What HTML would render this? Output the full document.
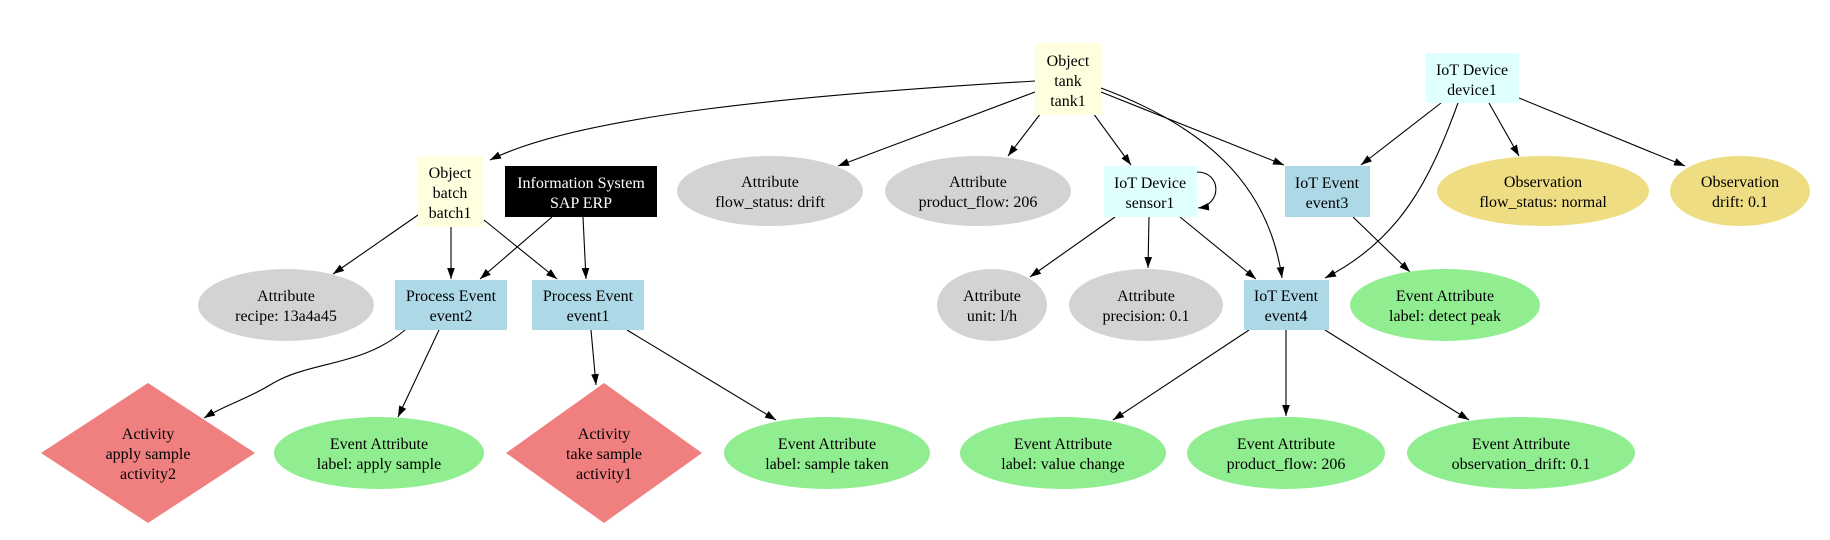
<!DOCTYPE html>
<html><head><meta charset="utf-8"><style>html,body{margin:0;padding:0;background:#fff}svg{display:block}text{font-family:"Liberation Serif",serif;font-size:16px;text-anchor:middle}</style></head><body>
<svg width="1830" height="540" viewBox="0 0 1830 540" xmlns="http://www.w3.org/2000/svg">
<defs><marker id="a" viewBox="0 0 10 10" refX="10" refY="5" markerWidth="11" markerHeight="11" markerUnits="userSpaceOnUse" orient="auto"><path d="M0,1.5 L10,5 L0,8.5 z" fill="#000"/></marker></defs>
<g fill="none" stroke="#000" stroke-width="1.1" marker-end="url(#a)">
<path d="M1035,81 C800,95 580,115 490,160"/>
<path d="M1035,92 L838,166"/>
<path d="M1041,113 L1008,156"/>
<path d="M1093,113 L1131,165"/>
<path d="M1101,88 C1200,125 1268,180 1282,278"/>
<path d="M1101,92 L1284,165"/>
<path d="M1441,103 L1361,165"/>
<path d="M1458,103 C1430,180 1400,240 1325,278"/>
<path d="M1489,103 L1519,156"/>
<path d="M1519,98 L1685,166"/>
<path d="M1197,172 C1222,172 1222,205 1198,208"/>
<path d="M1115,217 L1030,277"/>
<path d="M1149,217 L1148,268"/>
<path d="M1180,217 L1256,279"/>
<path d="M1353,217 L1410,272"/>
<path d="M1249,330 L1113,420"/>
<path d="M1286,330 L1286,416"/>
<path d="M1325,330 L1469,420"/>
<path d="M418,215 L333,274"/>
<path d="M451,227 L451,279"/>
<path d="M484,220 L557,279"/>
<path d="M552,217 L480,279"/>
<path d="M583,217 L586,279"/>
<path d="M405,330 C360,368 310,360 270,385 C245,400 225,405 204,418"/>
<path d="M439,330 L398,417"/>
<path d="M591,330 L596,385"/>
<path d="M627,330 L776,420"/>
</g>
<rect x="1035" y="43" width="66" height="72" fill="#ffffe0"/>
<text x="1068" y="66">Object</text><text x="1068" y="86">tank</text><text x="1068" y="106">tank1</text>
<rect x="1426" y="53" width="93" height="50" fill="#e0ffff"/>
<text x="1472" y="75">IoT Device</text><text x="1472" y="95">device1</text>
<rect x="418" y="156" width="65" height="71" fill="#ffffe0"/>
<text x="450" y="178">Object</text><text x="450" y="198">batch</text><text x="450" y="218">batch1</text>
<rect x="505" y="166" width="152" height="51" fill="#000"/>
<text x="581" y="188" fill="#fff">Information System</text><text x="581" y="208" fill="#fff">SAP ERP</text>
<ellipse cx="770" cy="191" rx="93" ry="35" fill="#d3d3d3"/>
<text x="770" y="187">Attribute</text><text x="770" y="207">flow_status: drift</text>
<ellipse cx="978" cy="191" rx="93" ry="35" fill="#d3d3d3"/>
<text x="978" y="187">Attribute</text><text x="978" y="207">product_flow: 206</text>
<rect x="1104" y="166" width="93" height="51" fill="#e0ffff"/>
<text x="1150" y="188">IoT Device</text><text x="1150" y="208">sensor1</text>
<rect x="1285" y="166" width="85" height="51" fill="#add8e6"/>
<text x="1327" y="188">IoT Event</text><text x="1327" y="208">event3</text>
<ellipse cx="1543" cy="191" rx="106" ry="35" fill="#eedd82"/>
<text x="1543" y="187">Observation</text><text x="1543" y="207">flow_status: normal</text>
<ellipse cx="1740" cy="191" rx="70" ry="35" fill="#eedd82"/>
<text x="1740" y="187">Observation</text><text x="1740" y="207">drift: 0.1</text>
<ellipse cx="286" cy="305" rx="88" ry="36" fill="#d3d3d3"/>
<text x="286" y="301">Attribute</text><text x="286" y="321">recipe: 13a4a45</text>
<rect x="395" y="280" width="112" height="50" fill="#add8e6"/>
<text x="451" y="301">Process Event</text><text x="451" y="321">event2</text>
<rect x="532" y="280" width="112" height="50" fill="#add8e6"/>
<text x="588" y="301">Process Event</text><text x="588" y="321">event1</text>
<ellipse cx="992" cy="305" rx="55" ry="36" fill="#d3d3d3"/>
<text x="992" y="301">Attribute</text><text x="992" y="321">unit: l/h</text>
<ellipse cx="1146" cy="305" rx="77" ry="36" fill="#d3d3d3"/>
<text x="1146" y="301">Attribute</text><text x="1146" y="321">precision: 0.1</text>
<rect x="1244" y="280" width="85" height="50" fill="#add8e6"/>
<text x="1286" y="301">IoT Event</text><text x="1286" y="321">event4</text>
<ellipse cx="1445" cy="305" rx="95" ry="36" fill="#90ee90"/>
<text x="1445" y="301">Event Attribute</text><text x="1445" y="321">label: detect peak</text>
<polygon points="148,383 255,453 148,523 41,453" fill="#f08080"/>
<text x="148" y="439">Activity</text><text x="148" y="459">apply sample</text><text x="148" y="479">activity2</text>
<ellipse cx="379" cy="453" rx="105" ry="36" fill="#90ee90"/>
<text x="379" y="449">Event Attribute</text><text x="379" y="469">label: apply sample</text>
<polygon points="604,383 702,453 604,523 506,453" fill="#f08080"/>
<text x="604" y="439">Activity</text><text x="604" y="459">take sample</text><text x="604" y="479">activity1</text>
<ellipse cx="827" cy="453" rx="103" ry="36" fill="#90ee90"/>
<text x="827" y="449">Event Attribute</text><text x="827" y="469">label: sample taken</text>
<ellipse cx="1063" cy="453" rx="103" ry="36" fill="#90ee90"/>
<text x="1063" y="449">Event Attribute</text><text x="1063" y="469">label: value change</text>
<ellipse cx="1286" cy="453" rx="99" ry="36" fill="#90ee90"/>
<text x="1286" y="449">Event Attribute</text><text x="1286" y="469">product_flow: 206</text>
<ellipse cx="1521" cy="453" rx="114" ry="36" fill="#90ee90"/>
<text x="1521" y="449">Event Attribute</text><text x="1521" y="469">observation_drift: 0.1</text>
</svg>
</body></html>
